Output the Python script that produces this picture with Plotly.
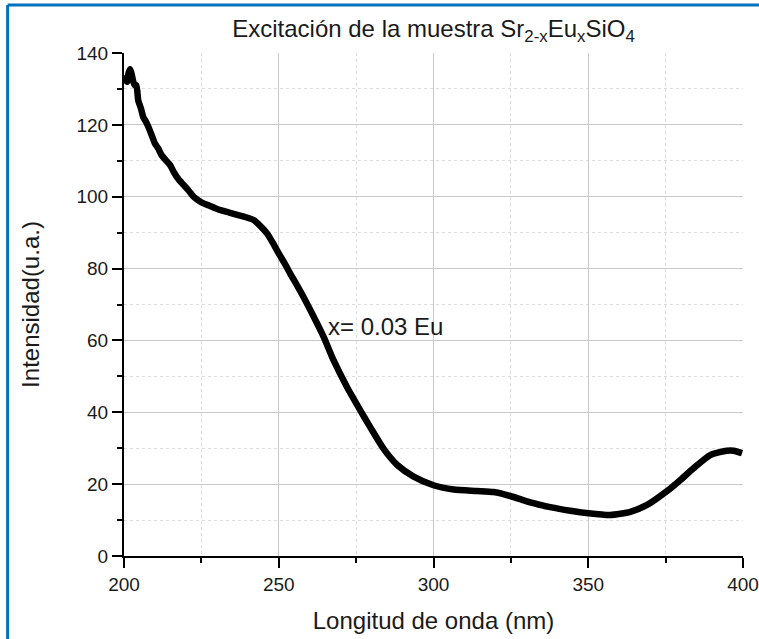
import plotly.graph_objects as go

# Data
wavelength_nm = [200.0, 200.5, 201.0, 201.5, 202.0, 202.5, 203.0, 203.5, 204.0, 204.6,
                 205.5, 206.2, 207.0, 207.9, 209.0, 210.0, 211.0, 212.2, 213.5, 214.9,
                 216.0, 217.5, 219.0, 220.8, 222.5, 224.0, 225.5, 227.3, 229.5, 231.5,
                 234.0, 236.9, 239.0, 241.9, 244.0, 246.2, 248.0, 250.0, 252.0, 253.7,
                 256.0, 258.0, 261.3, 264.5, 267.7, 272.0, 276.3, 279.6, 283.9, 288.2,
                 293.6, 300.0, 306.5, 314.0, 319.4, 324.8, 331.3, 337.7, 344.2, 350.0,
                 357.1, 363.6, 369.0, 375.2, 379.7, 384.0, 389.4, 394.8, 397.0, 399.7]
intensity = [131.5, 133.0, 132.0, 134.5, 135.5, 134.0, 132.0, 131.0, 131.0, 126.8,
             124.5, 122.2, 121.0, 119.4, 117.0, 114.8, 113.5, 111.5, 110.2, 108.8,
             107.0, 105.0, 103.5, 101.8, 100.0, 99.0, 98.2, 97.6, 96.8, 96.2,
             95.6, 94.9, 94.4, 93.5, 91.9, 89.8, 87.3, 84.2, 81.3, 78.6,
             75.2, 72.1, 66.6, 61.0, 54.5, 47.1, 40.6, 35.8, 29.8, 25.4,
             22.1, 19.7, 18.5, 18.1, 17.8, 16.7, 14.9, 13.6, 12.6, 11.9,
             11.4, 12.3, 14.2, 17.9, 21.1, 24.4, 28.1, 29.3, 29.3, 28.6]

x_ticks = [200, 250, 300, 350, 400]
y_ticks = [0, 20, 40, 60, 80, 100, 120, 140]

title_text = "Excitación de la muestra Sr<sub>2-x</sub>Eu<sub>x</sub>SiO<sub>4</sub>"
label_text = "x= 0.03 Eu"
x_title = "Longitud de onda (nm)"
y_title = "Intensidad(u.a.)"

FONT = "Liberation Sans, Arial, sans-serif"

fig = go.Figure()
fig.add_trace(go.Scatter(
    x=wavelength_nm, y=intensity, mode="lines",
    line=dict(color="black", width=6.5, shape="spline", smoothing=0.6),
    showlegend=False, hoverinfo="skip",
))

axis_common = dict(
    showline=True, linecolor="black", linewidth=2,
    ticks="outside", ticklen=10, tickwidth=2, tickcolor="black",
    showgrid=True, gridcolor="#c8c8c8", gridwidth=1,
    zeroline=False, automargin=False,
    tickfont=dict(family=FONT, size=19, color="#1a1a1a"),
    minor=dict(ticks="outside", ticklen=5, tickwidth=2, tickcolor="black",
               showgrid=True, gridcolor="#dcdcdc", griddash="dot", gridwidth=1),
)

fig.update_xaxes(range=[200, 400], tickvals=x_ticks, dtick=50,
                 minor_dtick=25,
                 title=dict(text=x_title, font=dict(family=FONT, size=24, color="#1a1a1a"), standoff=18),
                 **axis_common)
fig.update_yaxes(range=[0, 140], tickvals=y_ticks, dtick=20,
                 minor_dtick=10,
                 title=dict(text=y_title, font=dict(family=FONT, size=24, color="#1a1a1a"), standoff=30),
                 **axis_common)

fig.add_annotation(x=265.3, y=64, text=label_text, showarrow=False,
                   xanchor="left", yanchor="middle",
                   font=dict(family=FONT, size=24, color="#1a1a1a"))

# Blue frame (left and top edges visible)
fig.add_shape(type="line", xref="paper", yref="paper",
              x0=-0.188, x1=1.05, y0=1.0955, y1=1.0955,
              line=dict(color="#0070C0", width=3))
fig.add_shape(type="line", xref="paper", yref="paper",
              x0=-0.188, x1=-0.188, y0=-0.2, y1=1.0955,
              line=dict(color="#0070C0", width=3))

fig.update_layout(
    width=759, height=639, autosize=False,
    margin=dict(l=124, r=16, t=53, b=83),
    paper_bgcolor="white", plot_bgcolor="white",
    title=dict(text=title_text, x=0.5, xref="paper", xanchor="center",
               y=1 - 29 / 639, yref="container", yanchor="middle",
               font=dict(family=FONT, size=24, color="#1a1a1a")),
)

post = (
    "document.documentElement.style.overflow='hidden';"
    "document.body.style.margin='0';document.body.style.overflow='hidden';"
    "var gd=document.getElementById('{plot_id}');"
    "gd.style.width='759px';gd.style.height='639px';"
    "Plotly.relayout(gd,{width:759,height:639});"
)

fig.write_html("out.html", post_script=post,
               config={"displayModeBar": False, "responsive": False})
